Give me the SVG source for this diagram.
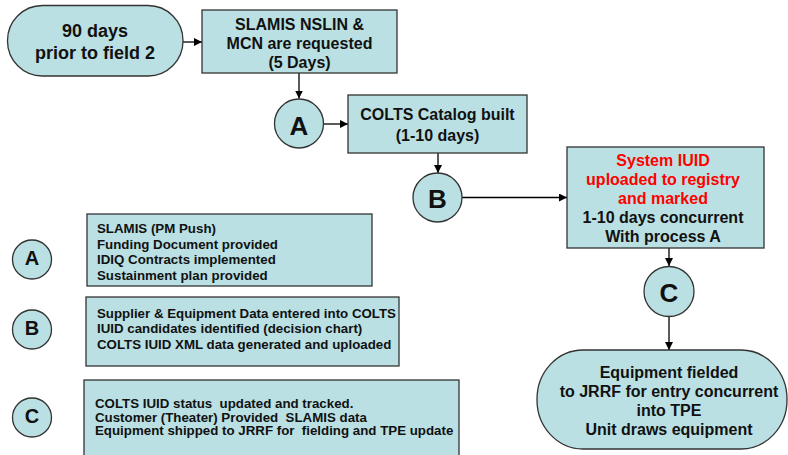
<svg xmlns="http://www.w3.org/2000/svg" width="788" height="455" viewBox="0 0 788 455">
<defs>
<style>
.shape{fill:#BAE0E3;stroke:#333333;stroke-width:1.3}
.t{font-family:"Liberation Sans",Arial,sans-serif;font-weight:bold;fill:#111111}
.c{text-anchor:middle}
.big{font-size:18px}
.mid{font-size:16px}
.small{font-size:13.3px}
.let{font-size:26px}
.let2{font-size:20px}
.red{fill:#FF0000}
.conn line{stroke:#000000;stroke-width:1.3;fill:none}
</style>
<marker id="ah" viewBox="0 0 10 10" refX="10" refY="5" markerWidth="8" markerHeight="8" markerUnits="userSpaceOnUse" orient="auto">
<path d="M0,0 L10,5 L0,10 z" fill="#000000"/>
</marker>
</defs>
<rect width="788" height="455" fill="#FFFFFF"/>

<g id="connectors" class="conn">
<line x1="183" y1="42" x2="202" y2="42" marker-end="url(#ah)"/>
<line x1="299" y1="73" x2="299" y2="98.5" marker-end="url(#ah)"/>
<line x1="323.5" y1="124" x2="348" y2="124" marker-end="url(#ah)"/>
<line x1="438" y1="153" x2="438" y2="173" marker-end="url(#ah)"/>
<line x1="462" y1="197.5" x2="567" y2="197.5" marker-end="url(#ah)"/>
<line x1="669" y1="248" x2="669" y2="266" marker-end="url(#ah)"/>
<line x1="669" y1="317" x2="669" y2="350" marker-end="url(#ah)"/>
</g>

<g id="start">
<rect class="shape" x="7.5" y="5.5" width="175.5" height="70.5" rx="35" ry="35"/>
<text class="t c big" x="95" y="37">90 days</text>
<text class="t c big" x="95" y="59">prior to field 2</text>
</g>

<g id="request">
<rect class="shape" x="202" y="10" width="195" height="63"/>
<text class="t c mid" x="299.5" y="29.5">SLAMIS NSLIN &amp;</text>
<text class="t c mid" x="299.5" y="48.5">MCN are requested</text>
<text class="t c mid" x="299.5" y="67.5">(5 Days)</text>
</g>

<g id="circleA">
<circle class="shape" cx="299" cy="123.5" r="24.5"/>
<text class="t c let" x="299" y="135">A</text>
</g>

<g id="catalog">
<rect class="shape" x="348" y="95" width="179" height="58"/>
<text class="t c mid" x="437.5" y="120">COLTS Catalog built</text>
<text class="t c mid" x="437.5" y="140.5">(1-10 days)</text>
</g>

<g id="circleB">
<circle class="shape" cx="437.5" cy="197.5" r="24.5"/>
<text class="t c let" x="437.5" y="208">B</text>
</g>

<g id="system">
<rect class="shape" x="567" y="147" width="197" height="101"/>
<text class="t c mid red" x="663" y="166">System IUID</text>
<text class="t c mid red" x="663" y="185">uploaded to registry</text>
<text class="t c mid red" x="663" y="204">and marked</text>
<text class="t c mid" x="663" y="223">1-10 days concurrent</text>
<text class="t c mid" x="663" y="242">With process A</text>
</g>

<g id="circleC">
<circle class="shape" cx="669" cy="291.5" r="25"/>
<text class="t c let" x="669" y="301.5">C</text>
</g>

<g id="fielded">
<rect class="shape" x="537" y="350" width="250" height="99" rx="46" ry="49"/>
<text class="t c mid" x="669" y="378">Equipment fielded</text>
<text class="t c mid" x="669" y="397">to JRRF for entry concurrent</text>
<text class="t c mid" x="669" y="416">into TPE</text>
<text class="t c mid" x="669" y="435">Unit draws equipment</text>
</g>

<g id="legendA">
<circle class="shape" cx="32" cy="259.5" r="19.5"/>
<text class="t c let2" x="32" y="264.5">A</text>
<rect class="shape" x="87" y="214" width="285" height="72"/>
<text class="t small" x="97" y="233">SLAMIS (PM Push)</text>
<text class="t small" x="97" y="248.5">Funding Document provided</text>
<text class="t small" x="97" y="264">IDIQ Contracts implemented</text>
<text class="t small" x="97" y="279.5">Sustainment plan provided</text>
</g>

<g id="legendB">
<circle class="shape" cx="32" cy="329.5" r="19.5"/>
<text class="t c let2" x="32" y="334.5">B</text>
<rect class="shape" x="86" y="297" width="313" height="69"/>
<text class="t small" x="97" y="318">Supplier &amp; Equipment Data entered into COLTS</text>
<text class="t small" x="97" y="333.3">IUID candidates identified (decision chart)</text>
<text class="t small" x="97" y="348.6">COLTS IUID XML data generated and uploaded</text>
</g>

<g id="legendC">
<circle class="shape" cx="32" cy="417.5" r="19.5"/>
<text class="t c let2" x="32" y="422.5">C</text>
<rect class="shape" x="84" y="380" width="375" height="85"/>
<text class="t small" x="95" y="408" xml:space="preserve">COLTS IUID status  updated and tracked.</text>
<text class="t small" x="95" y="421.7" xml:space="preserve">Customer (Theater) Provided  SLAMIS data</text>
<text class="t small" x="95" y="435.4" xml:space="preserve">Equipment shipped to JRRF for  fielding and TPE update</text>
</g>
</svg>
